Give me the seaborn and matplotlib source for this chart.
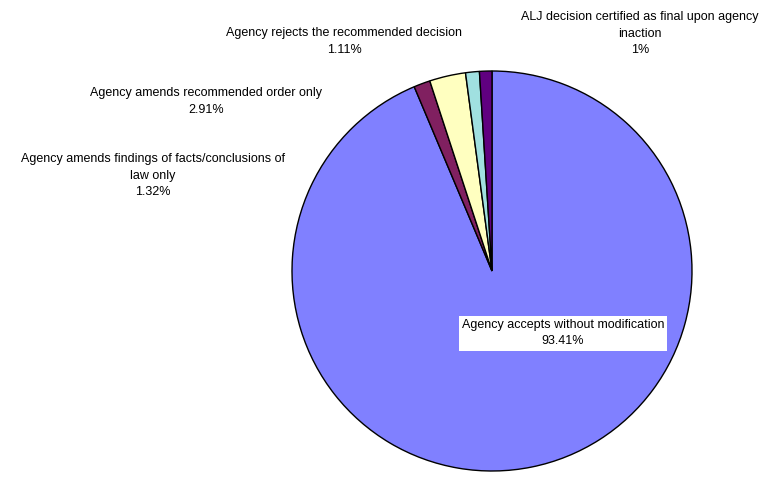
import matplotlib
matplotlib.use("Agg")
import matplotlib.pyplot as plt
import seaborn as sns

# Slice data, clockwise from 12 o'clock
labels = [
    "Agency accepts without modification",
    "Agency amends findings of facts/conclusions of\nlaw only",
    "Agency amends recommended order only",
    "Agency rejects the recommended decision",
    "ALJ decision certified as final upon agency\ninaction",
]
pct_text = ["93.41%", "1.32%", "2.91%", "1.11%", "1%"]
values = [93.41, 1.32, 2.91, 1.11, 1.0]
colors = sns.color_palette(["#8080FF", "#802060", "#FFFFC0", "#A0E0E0", "#600080"])

sns.set_style("white")
plt.rcParams["font.family"] = ["Liberation Sans", "DejaVu Sans"]

W, H = 780, 479
fig = plt.figure(figsize=(W / 100, H / 100), dpi=100)
ax = fig.add_axes([0, 0, 1, 1])

# pie in pixel units (y measured from bottom)
cx, cy, r = 492, H - 271, 200
ax.pie(values, colors=colors, startangle=90, counterclock=False,
       center=(cx, cy), radius=r,
       wedgeprops=dict(edgecolor="black", linewidth=1))
ax.set_xlim(0, W)
ax.set_ylim(0, H)
ax.set_aspect("equal")
ax.axis("off")

# label placement (pixel centres of the first line)
label_pos = [(563, 324), (153, 158), (206, 92), (344, 32), (640, 16)]
for i, (x, y) in enumerate(label_pos):
    txt = labels[i] + "\n" + pct_text[i]
    kw = dict(ha="center", va="top", fontsize=9, linespacing=1.5,
              color="black")
    if i == 0:
        kw["bbox"] = dict(facecolor="white", edgecolor="none", pad=2.2)
    ax.text(x, H - y + 5, txt, **kw)

fig.savefig("out.png", dpi=100)
